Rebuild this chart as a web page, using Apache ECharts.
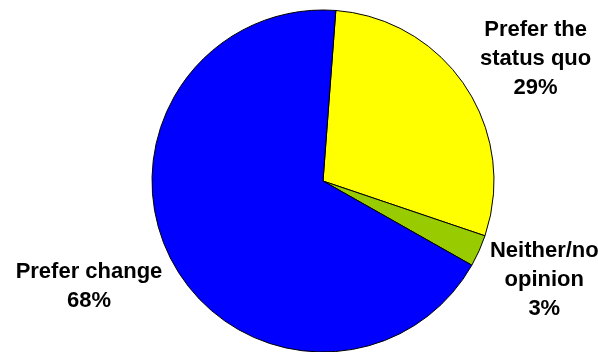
<!DOCTYPE html>
<html>
<head>
<meta charset="utf-8">
<script src="https://cdn.jsdelivr.net/npm/echarts@6/dist/echarts.min.js"></script>
<style>
  html, body { margin: 0; padding: 0; background: #ffffff; }
  #chart { width: 598px; height: 352px; }
</style>
</head>
<body>
<div id="chart"></div>
<script>
// Survey answers, in clockwise order from the top of the pie
var categories = ['Prefer the\nstatus quo', 'Neither/no\nopinion', 'Prefer change'];
var shares = [29, 3, 68];
var sliceColors = ['#FFFF00', '#99CC00', '#0000FF'];

var CENTER = [323, 181];
var RADIUS = 171;
var START_ANGLE = 85.7;   // degrees, ECharts convention (counter-clockwise from 3 o'clock)
var LABEL_GAP = 4;
// Small hand tweaks to each label's position after the radial placement
var labelNudge = [[8, 13.5], [0, 0], [-10.5, -13.5]];

var total = shares.reduce(function (a, b) { return a + b; }, 0);

// Mid-angle of each slice, measured clockwise from 12 o'clock
function midAngleFromTop(i) {
  var before = 0;
  for (var k = 0; k < i; k++) before += shares[k];
  var startFromTop = 90 - START_ANGLE;
  return startFromTop + (before + shares[i] / 2) / total * 360;
}

var chart = echarts.init(document.getElementById('chart'), null, { renderer: 'canvas' });

chart.setOption({
  backgroundColor: '#ffffff',
  animation: false,
  series: [{
    type: 'pie',
    center: CENTER,
    radius: RADIUS,
    startAngle: START_ANGLE,
    clockwise: true,
    avoidLabelOverlap: false,
    data: categories.map(function (name, i) {
      return { name: name, value: shares[i], itemStyle: { color: sliceColors[i] } };
    }),
    itemStyle: { borderColor: '#000000', borderWidth: 1 },
    emphasis: { disabled: true },
    label: {
      show: true,
      position: 'outside',
      formatter: '{b}\n{c}%',
      fontFamily: 'Liberation Sans, Arial, sans-serif',
      fontWeight: 'bold',
      fontSize: 22,
      lineHeight: 29,
      color: '#000000',
      align: 'center'
    },
    labelLine: { show: false },
    labelLayout: function (params) {
      var i = params.dataIndex;
      var a = midAngleFromTop(i) * Math.PI / 180;
      var ux = Math.sin(a), uy = -Math.cos(a);
      var r = params.labelRect;
      var dist = RADIUS + LABEL_GAP + (r.width / 2) * Math.abs(ux) + (r.height / 2) * Math.abs(uy);
      return {
        x: CENTER[0] + ux * dist + labelNudge[i][0],
        y: CENTER[1] + uy * dist + labelNudge[i][1],
        align: 'center',
        verticalAlign: 'middle'
      };
    }
  }]
});
</script>
</body>
</html>
